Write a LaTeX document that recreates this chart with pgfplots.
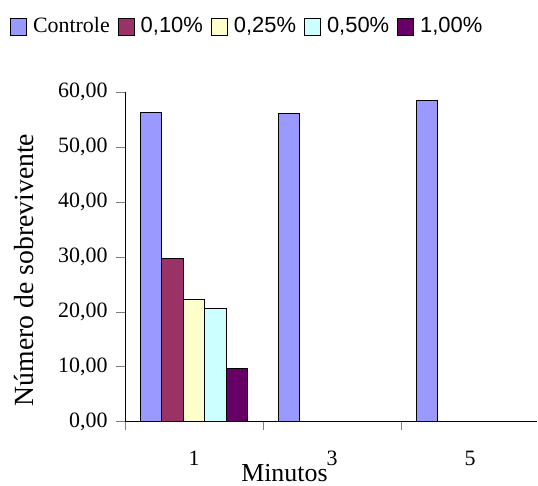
\documentclass[border=0pt]{standalone}
\usepackage{fontspec}
\setmainfont{Liberation Serif}
\setsansfont{Liberation Sans}
\usepackage{pgfplots}
\pgfplotsset{compat=1.18}
\definecolor{cA}{HTML}{9999FF}
\definecolor{cB}{HTML}{993366}
\definecolor{cC}{HTML}{FFFFCC}
\definecolor{cD}{HTML}{CCFFFF}
\definecolor{cE}{HTML}{660066}
\begin{document}
\begin{tikzpicture}
\useasboundingbox (0,0) rectangle (538bp,486bp);
\begin{axis}[
  at={(125bp,64.2bp)}, anchor=south west,
  scale only axis, width=412bp, height=329.4bp,
  xmin=-0.5, xmax=2.4855, ymin=0, ymax=60,
  axis x line=bottom, axis y line=left, axis line style={-},
  x axis line style={line width=1bp},
  y axis line style={line width=0.8bp},
  ybar=0pt, bar width=21.5bp,
  xtick={0,1,2}, xticklabels={1,3,5},
  major x tick style={draw=none},
  minor xtick={-0.5,0.5,1.5},
  minor x tick style={line width=0.8bp},
  tick align=outside, minor tick length=8bp, major tick length=9bp,
  ytick={0,10,20,30,40,50,60},
  yticklabels={{0,00},{10,00},{20,00},{30,00},{40,00},{50,00},{60,00}},
  major y tick style={line width=0.8bp},
  tick label style={font=\fontsize{22}{26}\selectfont},
  xticklabel style={anchor=base, yshift=-35bp},
  yticklabel style={anchor=east, xshift=-5bp},
  xlabel={Minutos},
  xlabel style={font=\fontsize{26}{30}\selectfont, at={(axis description cs:0.387,-0.181)}, anchor=base},
  ylabel={Número de sobrevivente},
  ylabel style={font=\fontsize{27.8}{32}\selectfont, at={(axis description cs:-0.245,0.461)}, anchor=center},
  legend columns=5,
  legend image code/.code={\draw[#1,draw=black,line width=1bp] (0bp,-10bp) rectangle (16bp,7bp);},
  legend style={at={(-0.279,1.229)}, anchor=north west, draw=none, fill=none,
    inner sep=0pt, outer sep=0pt, column sep=0pt,
    nodes={inner sep=0pt, font=\fontsize{22}{26}\selectfont},
    /tikz/every odd column/.append style={column sep=6bp},
    /tikz/every even column/.append style={column sep=8bp}},
]
\addplot[fill=cA, draw=black, line width=1bp] coordinates {(0,56.4) (1,56.1) (2,58.6)};
\addlegendentry{Controle}
\addplot[fill=cB, draw=black, line width=1bp] coordinates {(0,29.8)};
\addlegendentry{\sffamily 0,10\%}
\addplot[fill=cC, draw=black, line width=1bp] coordinates {(0,22.3)};
\addlegendentry{\sffamily 0,25\%}
\addplot[fill=cD, draw=black, line width=1bp] coordinates {(0,20.6)};
\addlegendentry{\sffamily 0,50\%}
\addplot[fill=cE, draw=black, line width=1bp] coordinates {(0,9.65)};
\addlegendentry{\sffamily 1,00\%}
\end{axis}
\end{tikzpicture}
\end{document}
